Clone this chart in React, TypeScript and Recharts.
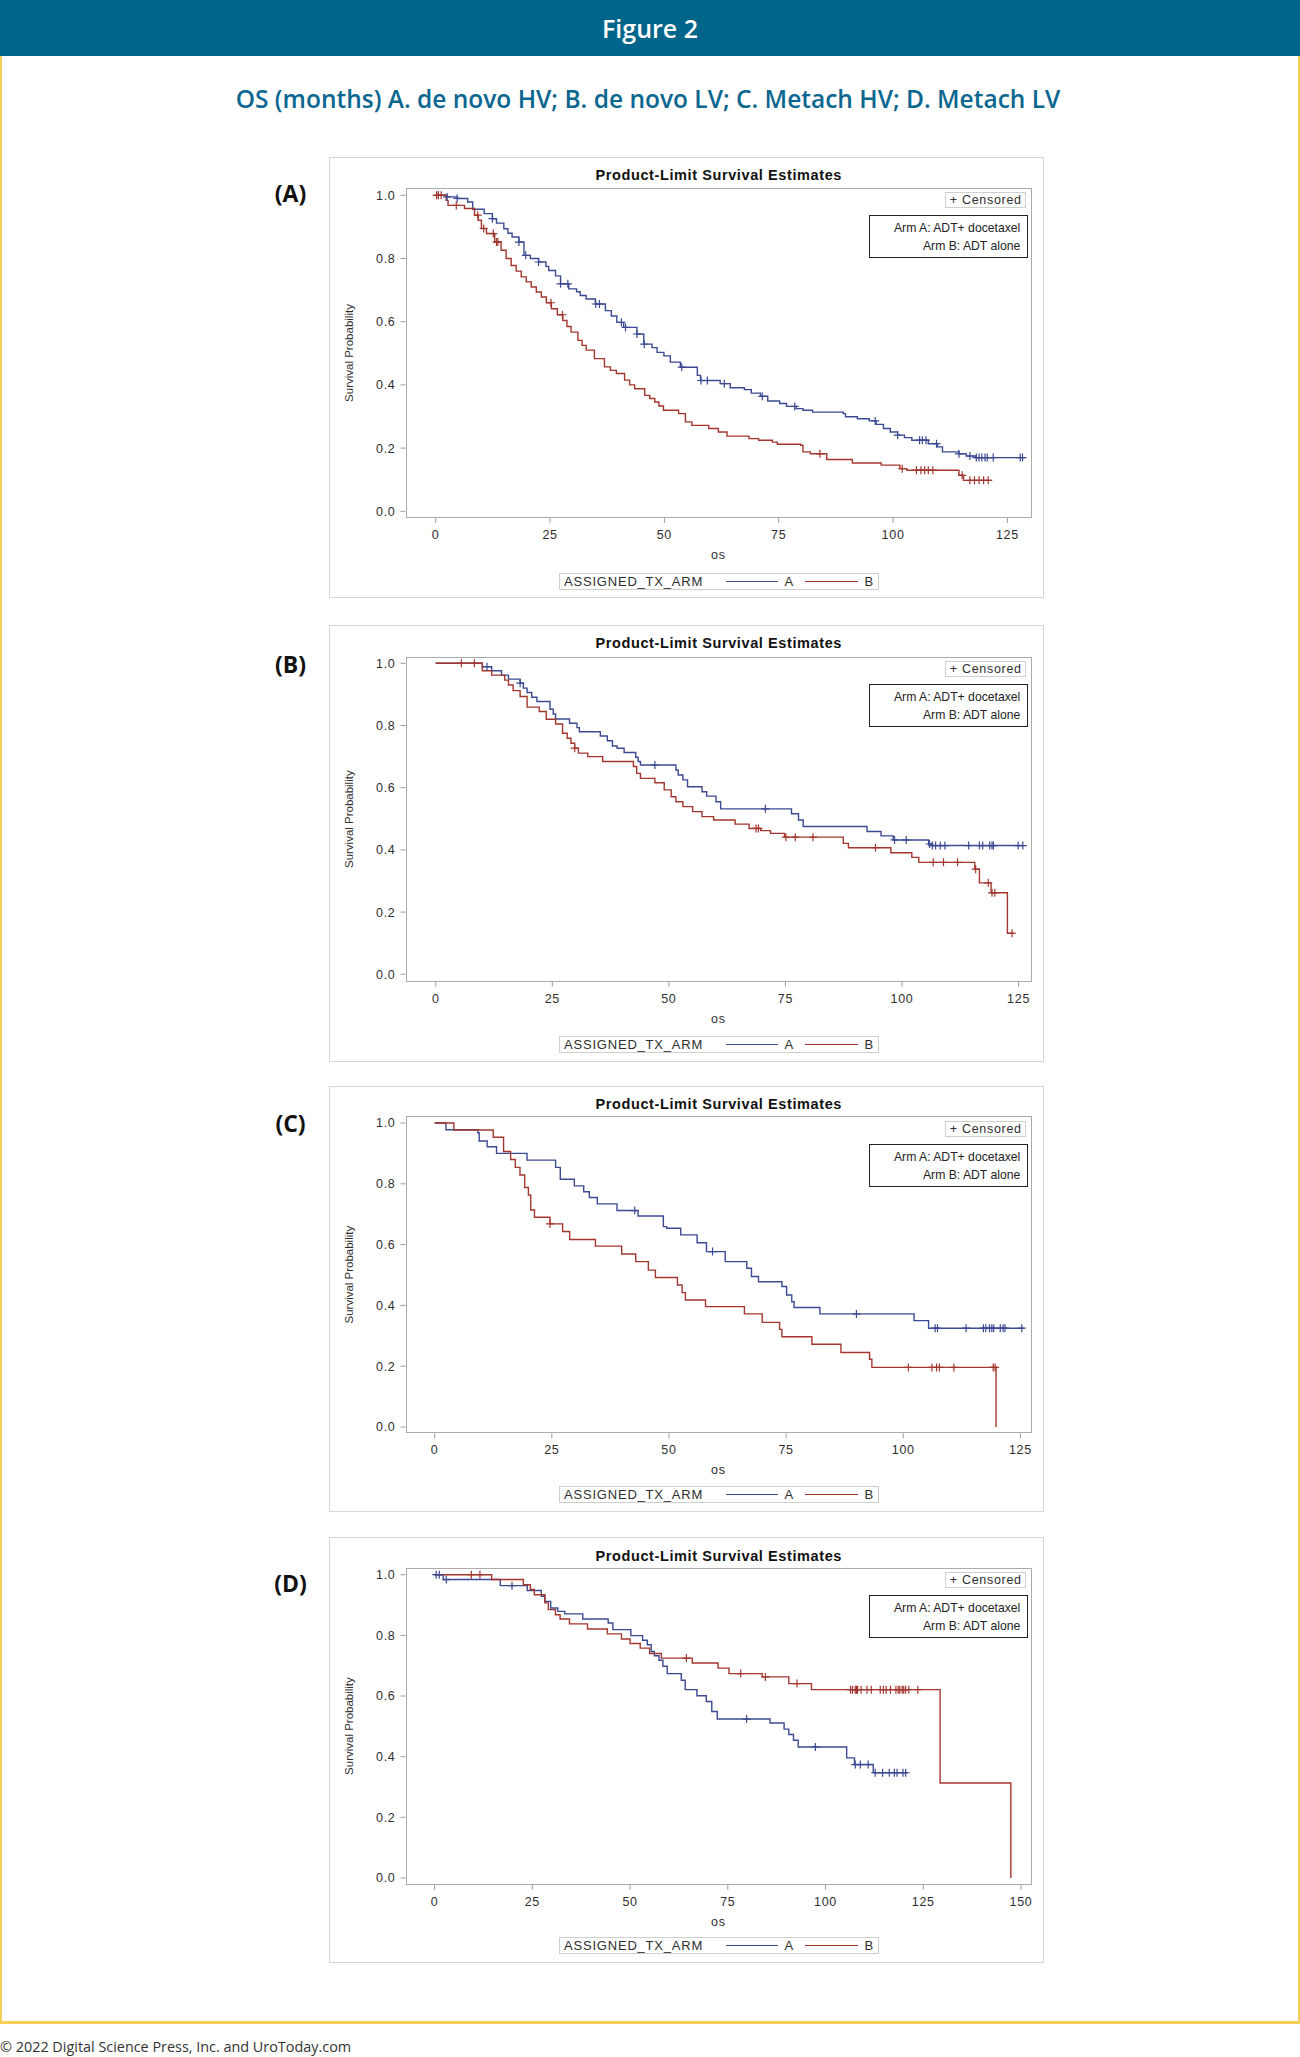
import React from 'react';
import { ComposedChart, Line, Scatter, XAxis, YAxis } from 'recharts';

type Pt = [number, number];

// Kaplan-Meier step points: [months, survival probability] where each level begins
const armColorA = '#3b4a92';
const armColorB = '#a3362e';

const xTicks125 = [0, 25, 50, 75, 100, 125];
const xTicks150 = [0, 25, 50, 75, 100, 125, 150];
const yTicks = [0, 0.2, 0.4, 0.6, 0.8, 1.0];

// (A) de novo HV
const deNovoHV_A: Pt[] = [
  [0, 1], [2.5, 0.995], [4.7, 0.99], [7.0, 0.979], [8.1, 0.956], [10.6, 0.942], [12.4, 0.926],
  [13.3, 0.912], [14.9, 0.894], [15.8, 0.88], [16.7, 0.868], [18.2, 0.852], [19.3, 0.81], [20.7, 0.8],
  [22.5, 0.789], [24.1, 0.775], [24.7, 0.762], [26.2, 0.745], [27.3, 0.72], [29.1, 0.704], [30.8, 0.695],
  [31.6, 0.683], [32.9, 0.672], [34.9, 0.656], [37.1, 0.635], [38.4, 0.618], [39.6, 0.598], [41.1, 0.582],
  [44.0, 0.561], [45.5, 0.529], [47.3, 0.518], [48.4, 0.503], [49.9, 0.492], [51.3, 0.472], [53.5, 0.456],
  [57.2, 0.43], [57.9, 0.414], [62.2, 0.404], [64.4, 0.391], [67.5, 0.385], [69.0, 0.374], [71.0, 0.364],
  [72.6, 0.349], [75.2, 0.341], [76.7, 0.332], [78.8, 0.325], [80.3, 0.32], [82.4, 0.314], [89.1, 0.309],
  [89.6, 0.299], [92.2, 0.293], [94.8, 0.286], [96.3, 0.275], [97.9, 0.262], [99.4, 0.251], [101.0, 0.241],
  [102.5, 0.233], [104.1, 0.225], [107.7, 0.214], [109.7, 0.204], [110.8, 0.188], [114.4, 0.182],
  [116.0, 0.175], [118.0, 0.17], [128.8, 0.17],
];
const deNovoHV_B: Pt[] = [
  [0, 1], [2.3, 0.984], [2.7, 0.968], [6.3, 0.958], [8.5, 0.937], [9.3, 0.921], [10.0, 0.895],
  [11.1, 0.879], [12.9, 0.852], [14.3, 0.826], [15.4, 0.8], [16.5, 0.778], [17.6, 0.76], [18.7, 0.742],
  [19.8, 0.726], [20.9, 0.71], [22.0, 0.694], [23.1, 0.678], [24.2, 0.66], [25.3, 0.641], [26.6, 0.622],
  [27.8, 0.604], [28.7, 0.585], [29.6, 0.567], [31.1, 0.541], [32.0, 0.525], [32.9, 0.51], [34.7, 0.483],
  [36.9, 0.457], [38.2, 0.446], [39.5, 0.436], [41.3, 0.415], [42.4, 0.4], [43.5, 0.388], [45.7, 0.367],
  [46.8, 0.357], [47.9, 0.346], [48.8, 0.333], [49.8, 0.32], [53.1, 0.309], [54.6, 0.283], [56.0, 0.272],
  [59.7, 0.262], [61.8, 0.251], [63.7, 0.238], [68.5, 0.23], [70.6, 0.225], [73.6, 0.219], [74.7, 0.212],
  [79.8, 0.209], [80.3, 0.188], [81.9, 0.182], [85.5, 0.164], [91.1, 0.153], [97.4, 0.146], [101.5, 0.135],
  [103.0, 0.13], [114.4, 0.114], [115.4, 0.098], [121.6, 0.098],
];
const deNovoHV_censA = [
  0.6, 2.5, 4.7, 12.4, 18.2, 19.7, 22.5, 27.3, 28.9, 35.0, 35.8, 40.6, 41.5, 44.0, 45.6, 53.8, 58.0,
  59.4, 63.1, 71.4, 78.5, 96.1, 101.0, 105.8, 106.4, 107.2, 109.5, 114.4, 116.8, 118.2, 118.8, 119.4,
  120.1, 120.6, 121.9, 127.8, 128.3,
];
const deNovoHV_censB = [
  0.2, 0.6, 1.2, 4.5, 9.2, 10.5, 12.6, 13.3, 13.6, 25.2, 27.7, 84.0, 102.0, 105.1, 106.1, 106.9, 107.7,
  108.7, 115.1, 116.8, 117.8, 118.8, 119.8, 120.8,
];

// (B) de novo LV
const deNovoLV_A: Pt[] = [
  [0, 1], [10.0, 0.989], [12.0, 0.976], [14.1, 0.962], [15.6, 0.949], [18.1, 0.936], [18.8, 0.92],
  [19.6, 0.906], [20.6, 0.891], [21.7, 0.877], [24.5, 0.852], [25.2, 0.837], [25.7, 0.821], [28.7, 0.807],
  [30.3, 0.793], [30.8, 0.78], [35.3, 0.766], [36.8, 0.751], [37.9, 0.734], [38.9, 0.727], [40.4, 0.713],
  [42.9, 0.698], [43.4, 0.684], [43.9, 0.673], [51.5, 0.657], [52.0, 0.641], [53.0, 0.625], [54.0, 0.603],
  [57.1, 0.587], [58.1, 0.573], [60.1, 0.555], [61.1, 0.532], [76.3, 0.516], [77.8, 0.496], [78.8, 0.475],
  [92.5, 0.459], [95.5, 0.445], [98.1, 0.432], [105.7, 0.419], [106.4, 0.414], [125.9, 0.414],
];
const deNovoLV_B: Pt[] = [
  [0, 1], [10.0, 0.976], [12.0, 0.962], [14.8, 0.946], [15.6, 0.93], [16.6, 0.912], [18.1, 0.893],
  [19.6, 0.859], [22.2, 0.845], [23.7, 0.82], [25.7, 0.805], [27.2, 0.775], [28.2, 0.759], [29.0, 0.743],
  [29.8, 0.727], [30.6, 0.711], [32.6, 0.7], [35.8, 0.684], [42.4, 0.668], [43.1, 0.646], [43.9, 0.63],
  [47.0, 0.616], [49.0, 0.593], [50.5, 0.571], [51.5, 0.555], [53.0, 0.539], [55.1, 0.523], [57.1, 0.507],
  [59.6, 0.496], [64.2, 0.483], [67.2, 0.469], [69.7, 0.462], [71.8, 0.453], [74.8, 0.441], [87.4, 0.421],
  [88.5, 0.407], [97.6, 0.391], [102.1, 0.376], [103.6, 0.36], [115.6, 0.338], [116.6, 0.294],
  [119.1, 0.262], [122.6, 0.132], [124.0, 0.132],
];
const deNovoLV_censA = [
  11.0, 18.1, 47.0, 70.7, 98.4, 100.9, 105.9, 106.5, 107.2, 108.2, 109.2, 114.3, 116.6, 117.3, 118.8,
  119.3, 119.6, 124.9, 125.9,
];
const deNovoLV_censB = [
  5.5, 8.3, 29.8, 68.7, 69.2, 75.1, 77.1, 80.9, 94.3, 106.7, 108.9, 111.9, 115.8, 118.5, 119.3, 119.9, 123.6,
];

// (C) metachronous HV
const metachHV_A: Pt[] = [
  [0, 1], [2.4, 0.978], [9.2, 0.968], [9.5, 0.941], [11.2, 0.922], [13.2, 0.9], [19.7, 0.878],
  [25.8, 0.854], [26.8, 0.815], [29.8, 0.793], [31.8, 0.774], [33.0, 0.755], [34.7, 0.734], [38.9, 0.712],
  [43.4, 0.694], [48.8, 0.659], [49.5, 0.654], [52.5, 0.632], [56.0, 0.606], [58.0, 0.577], [62.0, 0.544],
  [66.6, 0.522], [67.6, 0.495], [69.1, 0.478], [74.1, 0.462], [75.1, 0.434], [76.2, 0.412], [76.7, 0.393],
  [82.2, 0.372], [102.3, 0.35], [105.4, 0.325], [125.7, 0.325],
];
const metachHV_B: Pt[] = [
  [0, 1], [4.1, 0.977], [12.5, 0.953], [14.7, 0.906], [16.2, 0.88], [17.2, 0.854], [18.2, 0.829],
  [19.2, 0.788], [20.0, 0.763], [20.5, 0.714], [21.3, 0.69], [24.6, 0.668], [27.3, 0.643], [28.8, 0.617],
  [34.3, 0.595], [39.9, 0.569], [42.9, 0.544], [45.6, 0.516], [47.1, 0.492], [51.8, 0.467], [52.8, 0.442],
  [53.5, 0.418], [57.8, 0.396], [66.1, 0.372], [69.9, 0.344], [73.6, 0.321], [74.1, 0.297], [80.5, 0.272],
  [86.7, 0.245], [92.8, 0.223], [93.3, 0.196], [119.8, 0],
];
const metachHV_censA = [
  42.7, 59.3, 90.0, 106.8, 107.3, 113.4, 117.1, 117.6, 118.4, 118.9, 119.3, 120.7, 121.3, 121.7, 125.3,
];
const metachHV_censB = [24.6, 101.1, 106.1, 107.1, 107.7, 110.8, 119.2, 119.6];

// (D) metachronous LV
const metachLV_A: Pt[] = [
  [0, 1], [2.2, 0.984], [16.8, 0.964], [23.7, 0.948], [27.3, 0.929], [28.2, 0.912], [29.7, 0.89],
  [31.5, 0.879], [33.3, 0.871], [37.9, 0.854], [44.4, 0.841], [45.6, 0.819], [50.2, 0.799], [53.2, 0.784],
  [54.4, 0.769], [55.4, 0.747], [56.2, 0.733], [57.4, 0.718], [58.4, 0.698], [59.5, 0.674], [63.1, 0.652],
  [64.1, 0.621], [67.1, 0.601], [69.5, 0.582], [70.9, 0.549], [72.3, 0.524], [85.8, 0.511], [89.4, 0.491],
  [90.6, 0.473], [91.8, 0.454], [93.0, 0.432], [105.4, 0.396], [107.4, 0.374], [112.2, 0.347],
  [121.0, 0.347],
];
const metachLV_B: Pt[] = [
  [0, 1], [14.6, 0.984], [22.7, 0.967], [24.5, 0.951], [25.5, 0.934], [28.2, 0.907], [29.1, 0.885],
  [30.9, 0.868], [32.1, 0.854], [34.5, 0.838], [39.1, 0.821], [44.2, 0.805], [47.8, 0.788], [50.0, 0.773],
  [52.6, 0.758], [55.0, 0.74], [58.0, 0.725], [65.9, 0.709], [72.5, 0.692], [75.3, 0.674], [83.8, 0.663],
  [90.6, 0.641], [96.4, 0.621], [129.3, 0.313], [147.4, 0],
];
const metachLV_censA = [
  0.4, 1.2, 3.0, 19.8, 79.8, 97.4, 107.6, 108.9, 110.9, 112.7, 114.6, 116.3, 117.6, 118.3, 119.8, 120.5,
];
const metachLV_censB = [
  9.4, 11.6, 64.4, 78.3, 84.6, 92.7, 106.4, 106.9, 107.6, 107.9, 108.2, 109.1, 110.6, 111.7, 114.0,
  114.8, 115.5, 116.6, 118.0, 118.6, 119.0, 119.6, 120.0, 120.5, 121.3, 123.6,
];

const panelLabels = ['(A)', '(B)', '(C)', '(D)'];

// Page geometry
const PANEL_LEFT = 329.4;
const PANEL_W = 715;
const FRAME_LEFT = 405.9;
const FRAME_RIGHT = 1031.6;
const AXIS_H = 45;

type PanelSpec = {
  label: string;
  top: number;
  height: number;
  frameTop: number;
  frameBottom: number;
  labelY: number;
  legendGap: number;
  xDomain: [number, number];
  yDomain: [number, number];
  xTicks: number[];
  armA: Pt[];
  armB: Pt[];
  censA: number[];
  censB: number[];
};

const panels: PanelSpec[] = [
  {
    label: panelLabels[0], top: 156.7, height: 441.6, frameTop: 187.7, frameBottom: 517.7, labelY: 193.3,
    legendGap: 55, xDomain: [-6.6, 130.2], yDomain: [-0.0212, 1.0231], xTicks: xTicks125,
    armA: deNovoHV_A, armB: deNovoHV_B, censA: deNovoHV_censA, censB: deNovoHV_censB,
  },
  {
    label: panelLabels[1], top: 625, height: 436.7, frameTop: 656.7, frameBottom: 981.7, labelY: 664.3,
    legendGap: 54.3, xDomain: [-6.48, 127.7], yDomain: [-0.0238, 1.0212], xTicks: xTicks125,
    armA: deNovoLV_A, armB: deNovoLV_B, censA: deNovoLV_censA, censB: deNovoLV_censB,
  },
  {
    label: panelLabels[2], top: 1086, height: 425.7, frameTop: 1116, frameBottom: 1433.3, labelY: 1123.4,
    legendGap: 52.7, xDomain: [-6.23, 127.3], yDomain: [-0.0207, 1.023], xTicks: xTicks125,
    armA: metachHV_A, armB: metachHV_B, censA: metachHV_censA, censB: metachHV_censB,
  },
  {
    label: panelLabels[3], top: 1537.3, height: 425.4, frameTop: 1567.7, frameBottom: 1885, labelY: 1582.5,
    legendGap: 52.3, xDomain: [-7.44, 152.6], yDomain: [-0.0221, 1.0241], xTicks: xTicks150,
    armA: metachLV_A, armB: metachLV_B, censA: metachLV_censA, censB: metachLV_censB,
  },
];

const toSteps = (pts: Pt[]) => pts.map(([t, s]) => ({ t, s }));

// place each censored time on the step level in force at that time
const censorMarks = (pts: Pt[], times: number[]) =>
  times.map((t) => {
    let s = pts[0][1];
    for (const [pt, ps] of pts) {
      if (pt <= t) s = ps;
      else break;
    }
    return { t, s };
  });

const plusShape = (color: string) => (props: any) => {
  const { cx, cy } = props;
  if (cx == null || cy == null) return <g />;
  return (
    <path
      d={`M${cx - 4},${cy}H${cx + 4}M${cx},${cy - 4}V${cy + 4}`}
      stroke={color}
      strokeWidth={1.2}
      fill="none"
    />
  );
};

const SAS_FONT = '"Liberation Sans", Arial, sans-serif';
const tickStyle = { fontSize: 12.5, fill: '#2e2e2e', fontFamily: SAS_FONT, letterSpacing: 0.7 };

function Panel({ p }: { p: PanelSpec }) {
  const chartH = p.frameBottom - p.top + AXIS_H;
  const frameW = FRAME_RIGHT - FRAME_LEFT;
  const frameH = p.frameBottom - p.frameTop;
  const frameCenter = (FRAME_LEFT + FRAME_RIGHT) / 2;
  const legendTop = Math.round(p.frameBottom + p.legendGap);
  const legendLeft = Math.round(frameCenter - 160);

  return (
    <>
      {/* outer panel box */}
      <div
        style={{
          position: 'absolute', left: PANEL_LEFT, top: p.top, width: PANEL_W, height: p.height,
          border: '1.5px solid #d6d6d6', boxSizing: 'border-box',
        }}
      />
      {/* panel letter */}
      <div
        style={{
          position: 'absolute', left: 250, top: p.labelY - 16, width: 81, height: 32, lineHeight: '32px',
          textAlign: 'center', fontFamily: '"Open Sans", sans-serif', fontWeight: 700, fontSize: 23, color: '#111',
        }}
      >
        {p.label}
      </div>
      {/* title */}
      <div
        style={{
          position: 'absolute', left: frameCenter - 200, top: p.top + 18.3 - 10, width: 400, height: 20,
          lineHeight: '20px', textAlign: 'center', fontFamily: SAS_FONT, fontWeight: 700, fontSize: 14.5,
          letterSpacing: 0.6, color: '#111',
        }}
      >
        Product-Limit Survival Estimates
      </div>
      {/* plot frame */}
      <div
        style={{
          position: 'absolute', left: FRAME_LEFT, top: p.frameTop, width: frameW, height: frameH,
          border: '1.2px solid #ababab', boxSizing: 'border-box',
        }}
      />
      <div style={{ position: 'absolute', left: PANEL_LEFT, top: p.top }}>
        <ComposedChart
          width={PANEL_W}
          height={chartH}
          margin={{ top: p.frameTop - p.top, right: PANEL_LEFT + PANEL_W - FRAME_RIGHT, bottom: 0, left: 0 }}
        >
          <XAxis
            type="number"
            dataKey="t"
            domain={p.xDomain}
            ticks={p.xTicks}
            allowDataOverflow
            axisLine={false}
            tickLine={{ stroke: '#9a9a9a' }}
            tickSize={5}
            tickMargin={7}
            height={AXIS_H}
            tick={tickStyle}
            label={{ value: 'os', position: 'insideBottom', offset: 4, fontSize: 12.5, fill: '#2e2e2e', fontFamily: SAS_FONT, letterSpacing: 0.7 }}
          />
          <YAxis
            type="number"
            domain={p.yDomain}
            ticks={yTicks}
            allowDataOverflow
            width={FRAME_LEFT - PANEL_LEFT}
            axisLine={false}
            tickLine={{ stroke: '#9a9a9a' }}
            tickSize={5}
            tickMargin={5}
            tick={tickStyle}
            tickFormatter={(v: number) => v.toFixed(1)}
            label={{
              value: 'Survival Probability', angle: -90, position: 'insideLeft', offset: 19.6,
              style: { textAnchor: 'middle' }, fontSize: 11.5, fill: '#2e2e2e', fontFamily: SAS_FONT,
            }}
          />
          <Line
            data={toSteps(p.armA)} dataKey="s" type="stepAfter" stroke={armColorA} strokeWidth={1.4}
            dot={false} activeDot={false} isAnimationActive={false}
          />
          <Line
            data={toSteps(p.armB)} dataKey="s" type="stepAfter" stroke={armColorB} strokeWidth={1.4}
            dot={false} activeDot={false} isAnimationActive={false}
          />
          <Scatter data={censorMarks(p.armA, p.censA)} dataKey="s" shape={plusShape(armColorA)} isAnimationActive={false} />
          <Scatter data={censorMarks(p.armB, p.censB)} dataKey="s" shape={plusShape(armColorB)} isAnimationActive={false} />
        </ComposedChart>
      </div>
      {/* censored key */}
      <div
        style={{
          position: 'absolute', left: FRAME_RIGHT - 86.3, top: p.frameTop + 4.5, width: 81, height: 16,
          border: '1px solid #cfcfcf', boxSizing: 'border-box', background: '#fff', lineHeight: '14px',
          textAlign: 'center', fontFamily: SAS_FONT, fontSize: 12.5, letterSpacing: 0.7, color: '#2e2e2e',
        }}
      >
        + Censored
      </div>
      {/* arm description */}
      <div
        style={{
          position: 'absolute', left: FRAME_RIGHT - 162.8, top: p.frameTop + 27.5, width: 159.5, height: 43,
          border: '1.3px solid #222', boxSizing: 'border-box', background: '#fff',
          fontFamily: SAS_FONT, fontSize: 12.2, color: '#222', textAlign: 'right', paddingRight: 7,
          paddingTop: 3, lineHeight: '18px',
        }}
      >
        <div>Arm A: ADT+ docetaxel</div>
        <div>Arm B: ADT alone</div>
      </div>
      {/* group legend */}
      <div
        style={{
          position: 'absolute', left: legendLeft, top: legendTop, width: 320, height: 17,
          border: '1px solid #cfcfcf', boxSizing: 'border-box', fontFamily: SAS_FONT, fontSize: 13,
          letterSpacing: 0.8, color: '#2e2e2e', lineHeight: '15px',
        }}
      >
        <span style={{ position: 'absolute', left: 4 }}>ASSIGNED_TX_ARM</span>
        <div style={{ position: 'absolute', left: 166, top: 7, width: 52, height: 1, borderTop: `1.3px solid ${armColorA}` }} />
        <span style={{ position: 'absolute', left: 224.5 }}>A</span>
        <div style={{ position: 'absolute', left: 245, top: 7, width: 53, height: 1, borderTop: `1.3px solid ${armColorB}` }} />
        <span style={{ position: 'absolute', left: 304.5 }}>B</span>
      </div>
    </>
  );
}

export default function App() {
  return (
    <div
      style={{
        position: 'absolute', left: 0, top: 0, width: 1300, height: 2057, overflow: 'hidden',
        background: '#fff', fontFamily: '"Open Sans", sans-serif',
      }}
    >
      {/* header bar */}
      <div
        style={{
          position: 'absolute', left: 0, top: 0, width: 1300, height: 56, background: '#00658b',
          color: '#fff', textAlign: 'center', lineHeight: '56px', fontSize: 25, fontWeight: 600,
        }}
      >
        Figure 2
      </div>
      {/* yellow frame */}
      <div
        style={{
          position: 'absolute', left: 0, top: 56, width: 1300, height: 1968, boxSizing: 'border-box',
          borderLeft: '2.5px solid #f5cf57', borderRight: '2.5px solid #f5cf57', borderBottom: '3px solid #f5cf57',
        }}
      />
      <div
        style={{
          position: 'absolute', left: 0, top: 81, width: 1296, textAlign: 'center', fontSize: 24.5,
          fontWeight: 600, color: '#0b6690', lineHeight: '36px', whiteSpace: 'nowrap',
        }}
      >
        OS (months) A. de novo HV; B. de novo LV; C. Metach HV; D. Metach LV
      </div>
      {panels.map((p) => (
        <Panel key={p.label} p={p} />
      ))}
      <div
        style={{
          position: 'absolute', left: 0, top: 2037, fontSize: 14.4, color: '#333', lineHeight: '20px',
          whiteSpace: 'nowrap',
        }}
      >
        © 2022 Digital Science Press, Inc. and UroToday.com
      </div>
    </div>
  );
}
